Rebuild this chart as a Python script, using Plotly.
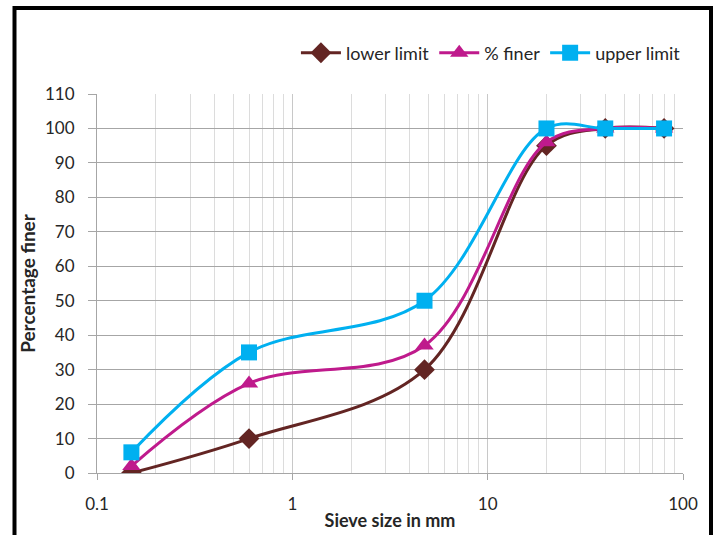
import plotly.graph_objects as go

# Sieve analysis: grading curve with specification limits
sieve_mm = [0.15, 0.6, 4.75, 20, 40, 80]
lower_limit = [0, 10, 30, 95, 100, 100]
pct_finer = [2, 26, 37, 96, 100, 100]
upper_limit = [6, 35, 50, 100, 100, 100]

series = [
    ("lower limit", lower_limit, "#632523", "diamond", 16),
    ("% finer", pct_finer, "#BF1A8C", "triangle-up", 16),
    ("upper limit", upper_limit, "#00B0F0", "square", 16),
]

fig = go.Figure()
for name, vals, color, symbol, msize in series:
    fig.add_trace(go.Scatter(
        x=sieve_mm, y=vals, name=name, mode="lines+markers",
        line=dict(color=color, width=3, shape="spline", smoothing=1.0),
        marker=dict(symbol=symbol, size=msize, color=color),
    ))

minor_vals = [m * d for d in (0.1, 1, 10) for m in range(2, 10)]

fig.update_layout(
    width=715, height=535,
    margin=dict(l=97, r=32, t=94, b=62, autoexpand=False),
    paper_bgcolor="white", plot_bgcolor="white",
    font=dict(family="Lato, Open Sans, sans-serif", size=17, color="#262626"),
    showlegend=True,
    legend=dict(orientation="h", x=1.005, xanchor="right", y=1.108, yanchor="middle",
                font=dict(size=18), itemwidth=40, bgcolor="rgba(0,0,0,0)",
                traceorder="normal"),
    xaxis=dict(
        type="log", range=[-1, 2], automargin=False,
        tickvals=[0.1, 1, 10, 100], ticktext=["0.1", "1", "10", "100"],
        showgrid=True, gridcolor="#c8c8c8", gridwidth=1,
        minor=dict(tickmode="array", tickvals=minor_vals, showgrid=True,
                   gridcolor="#dcdcdc", gridwidth=1, ticks=""),
        ticks="outside", ticklen=6, tickcolor="#a6a6a6",
        showline=True, linecolor="#a6a6a6", linewidth=1,
        ticklabelstandoff=10, zeroline=False,
        title=dict(text="<b>Sieve size in mm</b>", font=dict(size=18), standoff=0),
    ),
    yaxis=dict(
        range=[0, 110], dtick=10, automargin=False,
        showgrid=True, gridcolor="#a6a6a6", gridwidth=1,
        ticks="outside", ticklen=8, tickcolor="#a6a6a6",
        showline=True, linecolor="#a6a6a6", linewidth=1,
        ticklabelstandoff=10, zeroline=False,
        title=dict(text="<b>Percentage finer</b>", font=dict(size=19), standoff=4),
    ),
    shapes=[dict(type="rect", xref="paper", yref="paper",
                 x0=-82.5 / 586, x1=614 / 586, y0=-80 / 379, y1=465 / 379,
                 line=dict(color="black", width=4), layer="above")],
)

fig.write_html("out.html")
